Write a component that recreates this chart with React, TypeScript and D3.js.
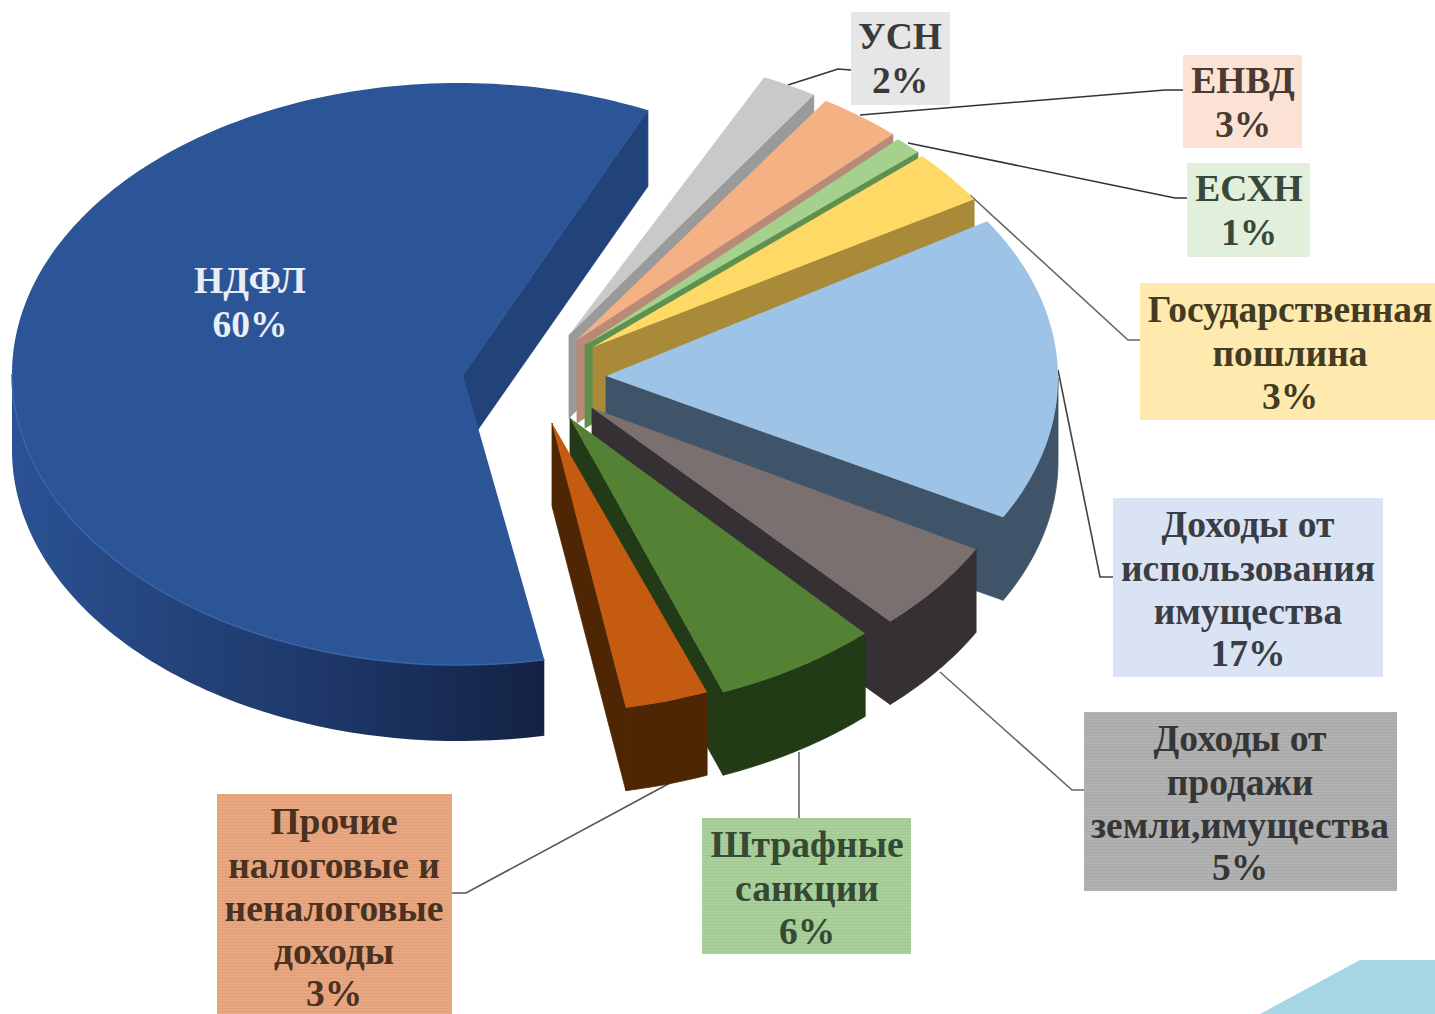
import React from "react";
import * as d3 from "d3";

// ---- data ----
const categories = ["НДФЛ", "УСН", "ЕНВД", "ЕСХН", "Государственная пошлина", "Доходы от использования имущества", "Доходы от продажи земли,имущества", "Штрафные санкции", "Прочие налоговые и неналоговые доходы"];
const values = [60, 2, 3, 1, 3, 17, 5, 6, 3];

// ---- styling and layout ----
const topColors = ["#2c5597", "#c9c9c9", "#f4b183", "#a5d18f", "#ffd966", "#9dc3e6", "#7b7070", "#548235", "#c55a11"];
const wallColors = ["#224379", "#9a9a9a", "#b98a78", "#5f9050", "#a98a38", "#3f5468", "#353033", "#223a16", "#4f2604"];
const centers = [[459, 374], [574, 341], [586, 347], [591, 352], [595, 356], [608, 378], [581, 410], [556, 422], [540, 422]];
const tips = [[463, 375], [569, 335], [577, 340], [585, 345], [593, 347], [606, 376], [592, 408], [570, 418], [552, 423]];
const radiiX = [447, 450, 450, 450, 450, 450, 450, 450, 450];
const depths = [76, 83, 83, 83, 83, 83, 83, 83, 83];
const RY = 291;
const START_DEG = 169;

type Box = { x0: number; x1: number; y0: number; y1: number; fill: string; tc: string; cx: number; lines: string[]; ys: number[]; leader: number[][]; lc: string; pat?: string };
const boxes: Box[] = [
  { x0: 851, x1: 950, y0: 12, y1: 105, fill: "#e7e6e6", tc: "#3a3a3a", cx: 900, lines: ["УСН", "2%"], ys: [37, 81], leader: [[851, 70], [838, 69], [788, 85]], lc: "#333" },
  { x0: 1183, x1: 1302, y0: 55, y1: 148, fill: "#fbe2d5", tc: "#4a3a32", cx: 1243, lines: ["ЕНВД", "3%"], ys: [81, 125], leader: [[1183, 90], [1165, 90], [860, 115]], lc: "#333" },
  { x0: 1187, x1: 1310, y0: 163, y1: 257, fill: "#e2efda", tc: "#38483a", cx: 1249, lines: ["ЕСХН", "1%"], ys: [189, 233], leader: [[1187, 198], [1175, 198], [908, 143]], lc: "#333" },
  { x0: 1140, x1: 1435, y0: 283, y1: 420, fill: "#fee9ae", tc: "#433b24", cx: 1290, lines: ["Государственная", "пошлина", "3%"], ys: [310, 354, 397], leader: [[1140, 340], [1128, 340], [970, 195]], lc: "#666" },
  { x0: 1113, x1: 1383, y0: 498, y1: 677, fill: "#dae3f3", tc: "#3a3d44", cx: 1248, lines: ["Доходы от", "использования", "имущества", "17%"], ys: [525, 569, 612, 654], leader: [[1113, 577], [1100, 577], [1058, 370]], lc: "#444" },
  { x0: 1084, x1: 1397, y0: 712, y1: 891, fill: "#b1b1b1", tc: "#363636", cx: 1240, lines: ["Доходы от", "продажи", "земли,имущества", "5%"], ys: [739, 783, 826, 868], leader: [[1084, 790], [1072, 790], [940, 672]], lc: "#666", pat: "#a9a9a9" },
  { x0: 702, x1: 911, y0: 818, y1: 954, fill: "#a9d09a", tc: "#354a35", cx: 807, lines: ["Штрафные", "санкции", "6%"], ys: [845, 889, 932], leader: [[799, 818], [799, 752]], lc: "#666", pat: "#a1c792" },
  { x0: 217, x1: 452, y0: 794, y1: 1014, fill: "#e9a781", tc: "#4a3222", cx: 334, lines: ["Прочие", "налоговые и", "неналоговые", "доходы", "3%"], ys: [822, 866, 909, 952, 994], leader: [[452, 893], [466, 893], [670, 783]], lc: "#555", pat: "#e19f79" },
];

const pie = d3.pie<number>().sort(null)
  .startAngle((START_DEG * Math.PI) / 180)
  .endAngle(((START_DEG + 360) * Math.PI) / 180);
const arcs = pie(values);
const line = d3.line();

function onEllipse(i: number, a: number, dz = 0): [number, number] {
  const [cx, cy] = centers[i];
  return [cx + radiiX[i] * Math.sin(a), cy - RY * Math.cos(a) + dz];
}
function samples(a0: number, a1: number): number[] {
  const n = Math.max(2, Math.ceil(Math.abs(a1 - a0) / 0.02));
  return d3.range(n + 1).map((k) => a0 + ((a1 - a0) * k) / n);
}
function topPath(i: number): string {
  const { startAngle: s, endAngle: e } = arcs[i];
  return (line([tips[i] as [number, number], ...samples(s, e).map((a) => onEllipse(i, a))]) || "") + "Z";
}
function endWallPath(i: number): string {
  const [tx, ty] = tips[i];
  const e = arcs[i].endAngle;
  return (line([[tx, ty], onEllipse(i, e), onEllipse(i, e, depths[i]), [tx, ty + depths[i]]]) || "") + "Z";
}
// the part of the outer rim that faces the viewer (between 90 and 270 degrees)
function rimRange(i: number): [number, number] | null {
  const { startAngle: s, endAngle: e } = arcs[i];
  const turn = s >= 2 * Math.PI ? 2 * Math.PI : 0;
  const lo = Math.max(s - turn, Math.PI / 2);
  const hi = Math.min(e - turn, (3 * Math.PI) / 2);
  return hi > lo ? [lo, hi] : null;
}
function rimPath(i: number): string | null {
  const r = rimRange(i);
  if (!r) return null;
  const pts = samples(r[0], r[1]);
  return (line([...pts.map((a) => onEllipse(i, a)), ...pts.slice().reverse().map((a) => onEllipse(i, a, depths[i]))]) || "") + "Z";
}
function rimEdge(i: number): string {
  const r = rimRange(i);
  return r ? line(samples(r[0], r[1]).map((a) => onEllipse(i, a))) || "" : "";
}

const FONT = "'Liberation Serif', 'DejaVu Serif', serif";
const FS = 37.5;

export default function App() {
  return (
    <svg width={1435} height={1014} style={{ position: "absolute", left: 0, top: 0, background: "#fff" }}>
      <defs>
        <linearGradient id="rim0" gradientUnits="userSpaceOnUse" x1={12} x2={540} y1={0} y2={0}>
          <stop offset="0" stopColor="#2b5295" />
          <stop offset="0.25" stopColor="#25467f" />
          <stop offset="0.6" stopColor="#1e3768" />
          <stop offset="0.85" stopColor="#162a52" />
          <stop offset="1" stopColor="#142343" />
        </linearGradient>
        {boxes.filter((b) => b.pat).map((b, i) => (
          <pattern key={i} id={`pat${b.cx}`} width={4} height={3} patternUnits="userSpaceOnUse">
            <rect width={4} height={3} fill={b.fill} />
            <rect width={4} height={1} fill={b.pat} />
          </pattern>
        ))}
      </defs>

      <polygon points="1260,1014 1360,960 1435,960 1435,1014" fill="#a6d5e6" />

      {boxes.map((b, i) => (
        <polyline key={`l${i}`} points={b.leader.map((p) => p.join(",")).join(" ")} fill="none" stroke={b.lc} strokeWidth={1.6} />
      ))}

      {arcs.map((_, i) => {
        const rim = rimPath(i);
        return (
          <g key={categories[i]}>
            <path d={endWallPath(i)} fill={wallColors[i]} stroke={wallColors[i]} strokeWidth={0.8} />
            {rim && <path d={rim} fill={i === 0 ? "url(#rim0)" : wallColors[i]} stroke={i === 0 ? "none" : wallColors[i]} strokeWidth={0.8} />}
            <path d={topPath(i)} fill={topColors[i]} />
            {i === 0 && <path d={rimEdge(i)} fill="none" stroke="#3a64aa" strokeWidth={1.5} />}
          </g>
        );
      })}

      {boxes.map((b, i) => (
        <g key={`b${i}`}>
          <rect x={b.x0} y={b.y0} width={b.x1 - b.x0} height={b.y1 - b.y0} fill={b.pat ? `url(#pat${b.cx})` : b.fill} />
          {b.lines.map((t, j) => (
            <text key={j} x={b.cx} y={b.ys[j] + 12} textAnchor="middle" fontFamily={FONT} fontWeight={700} fontSize={FS} fill={b.tc}>{t}</text>
          ))}
        </g>
      ))}
      <text x={250} y={293} textAnchor="middle" fontFamily={FONT} fontWeight={700} fontSize={FS} fill="#e8edf6">{categories[0]}</text>
      <text x={250} y={337} textAnchor="middle" fontFamily={FONT} fontWeight={700} fontSize={FS} fill="#e8edf6">{`${values[0]}%`}</text>
    </svg>
  );
}
